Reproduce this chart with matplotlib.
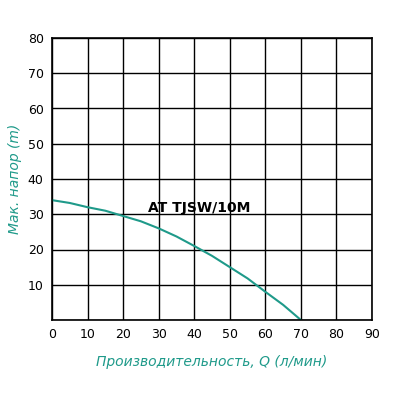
import matplotlib
matplotlib.use("Agg")
import matplotlib.pyplot as plt

# pump curve
flow = [0, 5, 10, 15, 20, 25, 30, 35, 40, 45, 50, 55, 60, 65, 70]
head = [34, 33.2, 32, 31, 29.5, 28, 26, 23.7, 21, 18.2, 15, 11.8, 8, 4.3, 0]
xticks = list(range(0, 100, 10))
yticks = list(range(0, 90, 10))
TEAL = "#1f9a8a"

fig = plt.figure(figsize=(4, 4), dpi=100)
ax = fig.add_axes([0.13, 0.20, 0.80, 0.705])
ax.plot(flow, head, color=TEAL, lw=1.5)
ax.set_xlim(0, 90)
ax.set_ylim(0, 80)
ax.set_xticks(xticks)
ax.set_yticks(yticks)
ax.set_yticklabels(["" if v == 0 else str(v) for v in yticks])
ax.grid(True, color="black", lw=1)
for s in ax.spines.values():
    s.set_linewidth(1.2)
ax.tick_params(length=0, labelsize=9, pad=6)
ax.text(27, 30.5, "AT TJSW/10M", fontsize=10, fontweight="bold")
ax.set_xlabel("Производительность, Q (л/мин)", color=TEAL, style="italic", fontsize=10, labelpad=10)
ax.set_ylabel("Мак. напор (m)", color=TEAL, style="italic", fontsize=10)
fig.savefig("out.png")
